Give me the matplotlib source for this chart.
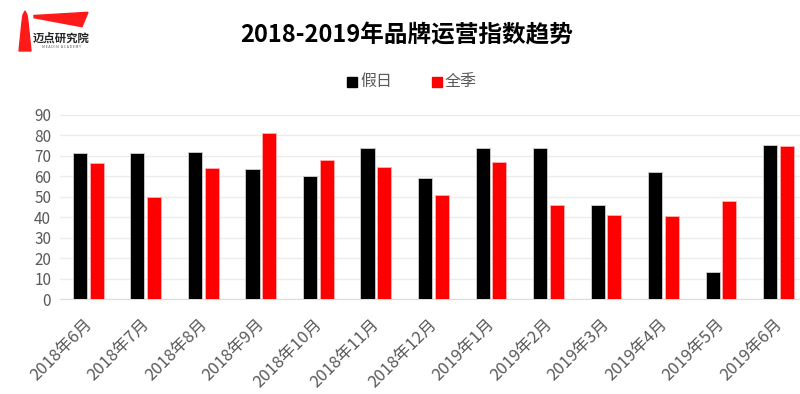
import matplotlib
matplotlib.use('Agg')
import matplotlib.pyplot as plt
from matplotlib.patches import Polygon
from matplotlib.transforms import ScaledTranslation
import numpy as np

plt.rcParams['font.family'] = ['Noto Sans CJK SC', 'DejaVu Sans']

months = ['2018年6月', '2018年7月', '2018年8月', '2018年9月', '2018年10月', '2018年11月',
          '2018年12月', '2019年1月', '2019年2月', '2019年3月', '2019年4月', '2019年5月', '2019年6月']
holiday = [71.1, 71.1, 71.6, 63.3, 60.2, 73.6, 58.9, 73.5, 73.5, 45.9, 62.0, 13.0, 75.3]
quanji = [66.4, 49.6, 64.0, 81.2, 68.0, 64.5, 50.6, 66.9, 45.9, 41.2, 40.5, 47.7, 74.5]
series_names = ['假日', '全季']

W, H = 800, 394
fig = plt.figure(figsize=(W / 100, H / 100), dpi=100)


def px(x, y):
    return (x / W, 1 - y / H)


ax = fig.add_axes([59.5 / W, 1 - 299 / H, 747.8 / W, (299 - 114.7) / H])
x = np.arange(len(months))
bw = 0.245
ax.bar(x - 0.145, holiday, bw, color='#000000', edgecolor='#d0d0d0', linewidth=0.6, zorder=3)
ax.bar(x + 0.145, quanji, bw, color='#ff0000', edgecolor='#ffb0b0', linewidth=0.6, zorder=3)

ax.set_xlim(-0.5, len(months) - 0.5)
ax.set_ylim(0, 90)
ax.set_yticks(range(0, 91, 10))
ax.grid(axis='y', color='#ececec', linewidth=1, zorder=0)
for s in ['top', 'right', 'left']:
    ax.spines[s].set_visible(False)
ax.spines['bottom'].set_color('#dcdcdc')
ax.tick_params(axis='both', length=0, colors='#595959')
ax.tick_params(axis='y', pad=6, labelsize=11)
ax.set_xticks(x)
ax.set_xticklabels(months, rotation=45, ha='right', rotation_mode='anchor', fontsize=12)
ax.tick_params(axis='x', pad=12)
shift = ScaledTranslation(-5 / 100, 0, fig.dpi_scale_trans)
for lab in ax.get_xticklabels():
    lab.set_transform(lab.get_transform() + shift)

# title
fig.text(*px(407, 35), '2018-2019年品牌运营指数趋势', ha='center', va='center',
         fontsize=17, fontweight='bold', color='#000000')

# legend
for (lx, name, col) in [(352, series_names[0], '#000000'), (437, series_names[1], '#ff0000')]:
    fig.patches.append(Polygon([px(lx - 5, 77), px(lx + 5, 77), px(lx + 5, 87), px(lx - 5, 87)],
                               closed=True, transform=fig.transFigure, color=col, figure=fig))
    fig.text(*px(lx + 8, 81.5), name, ha='left', va='center', fontsize=11.5, color='#595959')

# logo
fig.patches.append(Polygon([px(25, 11), px(27, 15), px(28, 22), px(31, 51), px(19, 51),
                            px(22, 22), px(23, 15)], closed=True,
                           transform=fig.transFigure, color='#ff1a1a', figure=fig))
fig.patches.append(Polygon([px(34, 15.5), px(88, 12.3), px(82, 26.7), px(34, 17.7)], closed=True,
                           transform=fig.transFigure, color='#ff1a1a', figure=fig))
fig.text(*px(61, 38), '迈点研究院', ha='center', va='center', fontsize=8.2,
         fontweight='bold', color='#222222')
fig.text(*px(61, 47.5), 'M E A D I N   A C A D E M Y', ha='center', va='center',
         fontsize=2.5, color='#555555')

fig.savefig('out.png', dpi=100)
